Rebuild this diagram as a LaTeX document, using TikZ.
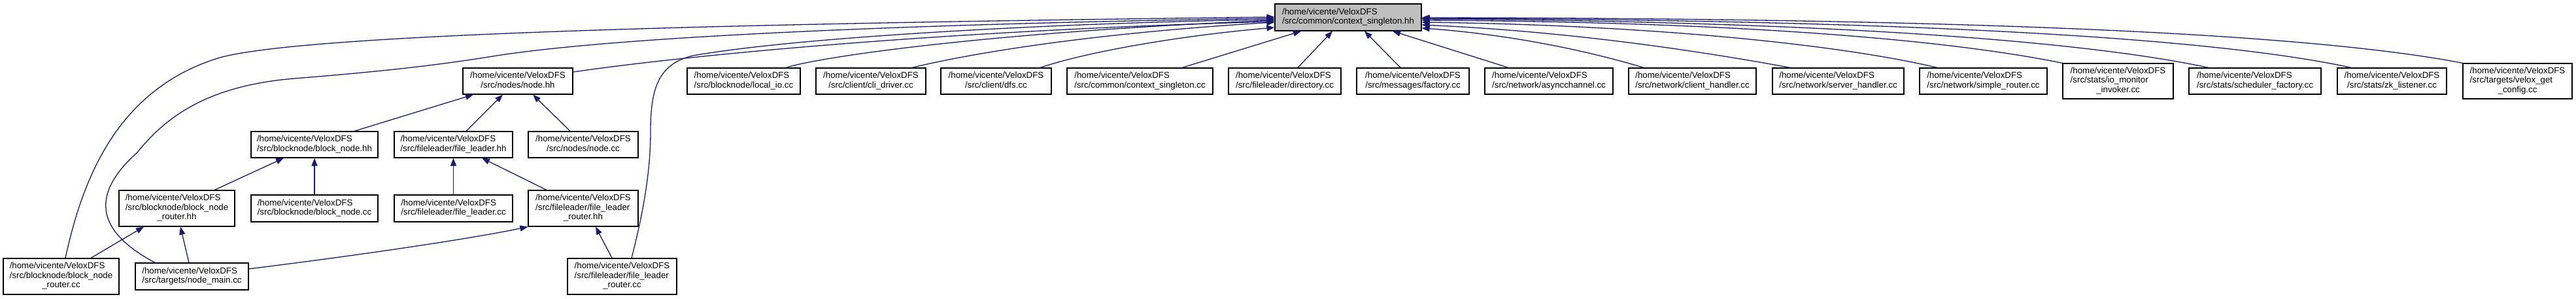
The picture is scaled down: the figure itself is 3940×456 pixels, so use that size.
\documentclass[tikz,border=0pt]{standalone}
\usepackage{fontspec}
\setmainfont{Liberation Sans}
\usetikzlibrary{arrows.meta}
\definecolor{edgecol}{HTML}{191970}
\definecolor{rootfill}{HTML}{BFBFBF}
\newcommand\twol[2]{\begin{tabular}{@{}l@{}}#1\\\multicolumn{1}{@{}c@{}}{#2}\end{tabular}}
\newcommand\threel[3]{\begin{tabular}{@{}l@{}}#1\\#2\\\multicolumn{1}{@{}c@{}}{#3}\end{tabular}}
\newcommand\vh{/home/vicente/VeloxDFS}
\begin{document}
\begin{tikzpicture}[x=1pt, y=-1pt,
  box/.style={draw=black, line width=1.2pt, fill=white, inner sep=0pt,
    minimum height=40pt, font=\fontsize{13.3pt}{14.5pt}\selectfont},
  edge/.style={draw=edgecol, line width=1.3pt, -{Triangle[length=12pt,width=9pt]}}]
\useasboundingbox (0,0) rectangle (3940,456);
% root
\node[box, fill=rootfill, minimum width=224pt, minimum height=41pt] (root) at (2062,26.5) {\twol{\vh}{/src/common/context\_singleton.hh}};
% row 1
\node[box, minimum width=168pt] (nodehh) at (792,124) {\twol{\vh}{/src/nodes/node.hh}};
\node[box, minimum width=173pt] (localio) at (1137.5,124) {\twol{\vh}{/src/blocknode/local\_io.cc}};
\node[box, minimum width=168pt] (clidriver) at (1332,124) {\twol{\vh}{/src/client/cli\_driver.cc}};
\node[box, minimum width=169pt] (dfs) at (1523.5,124) {\twol{\vh}{/src/client/dfs.cc}};
\node[box, minimum width=223pt] (ctxcc) at (1743.5,124) {\twol{\vh}{/src/common/context\_singleton.cc}};
\node[box, minimum width=172pt] (directory) at (1965,124) {\twol{\vh}{/src/fileleader/directory.cc}};
\node[box, minimum width=172pt] (factory) at (2161,124) {\twol{\vh}{/src/messages/factory.cc}};
\node[box, minimum width=196pt] (async) at (2369,124) {\twol{\vh}{/src/network/asyncchannel.cc}};
\node[box, minimum width=195pt] (clienth) at (2588.5,124) {\twol{\vh}{/src/network/client\_handler.cc}};
\node[box, minimum width=201pt] (serverh) at (2811.5,124) {\twol{\vh}{/src/network/server\_handler.cc}};
\node[box, minimum width=195pt] (simpler) at (3033.5,124) {\twol{\vh}{/src/network/simple\_router.cc}};
\node[box, minimum width=169pt, minimum height=54pt] (iomon) at (3239.5,124) {\threel{\vh}{/src/stats/io\_monitor}{\_invoker.cc}};
\node[box, minimum width=202pt] (sched) at (3449,124) {\twol{\vh}{/src/stats/scheduler\_factory.cc}};
\node[box, minimum width=167pt] (zk) at (3658.5,124) {\twol{\vh}{/src/stats/zk\_listener.cc}};
\node[box, minimum width=167pt, minimum height=54pt] (veloxget) at (3850.5,124) {\threel{\vh}{/src/targets/velox\_get}{\_config.cc}};
% row 2
\node[box, minimum width=194pt] (bnhh) at (481,221) {\twol{\vh}{/src/blocknode/block\_node.hh}};
\node[box, minimum width=181pt] (flhh) at (693.5,221) {\twol{\vh}{/src/fileleader/file\_leader.hh}};
\node[box, minimum width=168pt] (nodecc) at (892,221) {\twol{\vh}{/src/nodes/node.cc}};
% row 3
\node[box, minimum width=177pt, minimum height=55pt] (bnrhh) at (270.5,318.5) {\threel{\vh}{/src/blocknode/block\_node}{\_router.hh}};
\node[box, minimum width=194pt, minimum height=41pt] (bncc) at (481,318.5) {\twol{\vh}{/src/blocknode/block\_node.cc}};
\node[box, minimum width=181pt, minimum height=41pt] (flcc) at (693.5,318.5) {\twol{\vh}{/src/fileleader/file\_leader.cc}};
\node[box, minimum width=168pt, minimum height=55pt] (flrhh) at (892,318.5) {\threel{\vh}{/src/fileleader/file\_leader}{\_router.hh}};
% row 4
\node[box, minimum width=177pt, minimum height=55pt] (bnrcc) at (93.5,422.5) {\threel{\vh}{/src/blocknode/block\_node}{\_router.cc}};
\node[box, minimum width=173pt, minimum height=41pt] (nodemain) at (293.5,422.5) {\twol{\vh}{/src/targets/node\_main.cc}};
\node[box, minimum width=167pt, minimum height=55pt] (flrcc) at (951.5,422.5) {\threel{\vh}{/src/fileleader/file\_leader}{\_router.cc}};
% edges to root, left side
\draw[edge] (bnrcc.north -| 100,0) .. controls (125,280) and (175,140) .. (330,90) .. controls (450,50) and (1200,35) .. (root.west |- 0,26);
\draw[edge] (nodemain.north -| 237,0) .. controls (150,355) and (135,300) .. (210,233) .. controls (260,170) and (330,130) .. (450,120) .. controls (600,108) and (680,98) .. (760,85) .. controls (1000,48) and (1600,33) .. (root.west |- 0,28);
\draw[edge] (nodehh.east |- 0,110) .. controls (1100,78) and (1500,45) .. (root.west |- 0,33);
\draw[edge] (flrcc.north -| 966,0) .. controls (985,320) and (995,260) .. (995,200) .. controls (995,130) and (1010,97) .. (1060,85) .. controls (1250,52) and (1700,33) .. (root.west |- 0,30);
\draw[edge] (localio.north -| 1202,0) .. controls (1250,88) and (1500,50) .. (root.west |- 0,31);
\draw[edge] (clidriver.north -| 1395,0) .. controls (1470,85) and (1650,52) .. (root.west |- 0,34);
\draw[edge] (dfs.north -| 1591,0) .. controls (1660,80) and (1800,55) .. (root.west |- 0,42);
% edges to root, bottom
\draw[edge] (ctxcc.north -| 1808,0) -- (root.south -| 1990,0);
\draw[edge] (directory.north -| 1985,0) -- (root.south -| 2038,0);
\draw[edge] (factory.north -| 2142,0) -- (root.south -| 2087,0);
\draw[edge] (async.north -| 2307,0) -- (root.south -| 2130,0);
% edges to root, right side
\draw[edge] (clienth.north -| 2514,0) .. controls (2420,75) and (2300,52) .. (root.east |- 0,43);
\draw[edge] (serverh.north -| 2738,0) .. controls (2600,78) and (2400,48) .. (root.east |- 0,38);
\draw[edge] (simpler.north -| 2963,0) .. controls (2800,65) and (2500,38) .. (root.east |- 0,34);
\draw[edge] (iomon.north west) .. controls (2950,55) and (2600,33) .. (root.east |- 0,31);
\draw[edge] (sched.north -| 3378,0) .. controls (3150,55) and (2700,32) .. (root.east |- 0,29);
\draw[edge] (zk.north -| 3596,0) .. controls (3350,50) and (2800,30) .. (root.east |- 0,28);
\draw[edge] (veloxget.north west) .. controls (3500,45) and (2900,28) .. (root.east |- 0,27);
% tree edges
\draw[edge] (bnhh.north -| 542,0) -- (nodehh.south -| 724,0);
\draw[edge] (flhh.north -| 713,0) -- (nodehh.south -| 769,0);
\draw[edge] (nodecc.north -| 872,0) -- (nodehh.south -| 815,0);
\draw[edge] (bnrhh.north -| 328,0) -- (bnhh.south -| 434,0);
\draw[edge] (bncc.north) -- (bnhh.south);
\draw[edge] (flcc.north) -- (flhh.south);
\draw[edge] (flrhh.north -| 836,0) -- (flhh.south -| 737,0);
\draw[edge] (bnrcc.north -| 139,0) -- (bnrhh.south -| 220,0);
\draw[edge] (nodemain.north -| 289,0) -- (bnrhh.south -| 276,0);
\draw[edge] (nodemain.east |- 0,411) .. controls (550,390) and (720,365) .. (flrhh.south west);
\draw[edge] (flrcc.north -| 936,0) -- (flrhh.south -| 911,0);
\end{tikzpicture}
\end{document}
